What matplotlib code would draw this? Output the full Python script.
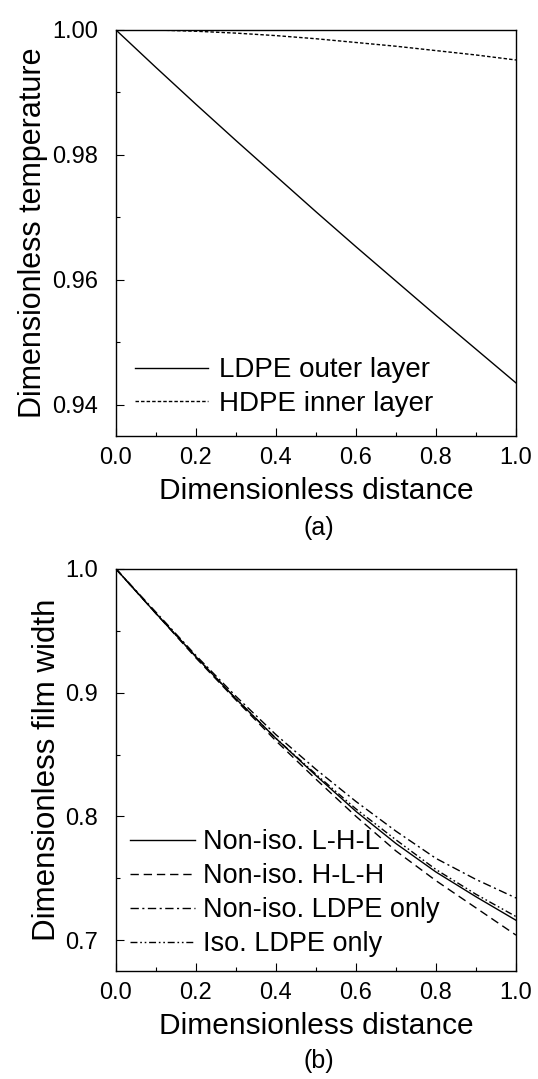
import matplotlib
matplotlib.use("Agg")
import matplotlib.pyplot as plt
from matplotlib.ticker import MultipleLocator, FormatStrFormatter

plt.rcParams['font.family'] = ['Liberation Sans', 'DejaVu Sans']

# panel (a): temperature along the distance
dist = [0.0, 0.1, 0.2, 0.3, 0.4, 0.5, 0.6, 0.7, 0.8, 0.9, 1.0]
ldpe_outer = [1.0, 0.9940, 0.9881, 0.9823, 0.9766, 0.9709, 0.9653, 0.9598, 0.9543, 0.9489, 0.9435]
hdpe_inner = [1.0, 1.0, 0.9998, 0.9995, 0.9991, 0.9986, 0.9980, 0.9974, 0.9967, 0.9960, 0.9952]

# panel (b): film width
lhl = [1.0, 0.964, 0.929, 0.895, 0.863, 0.833, 0.804, 0.778, 0.755, 0.735, 0.716]
hlh = [1.0, 0.964, 0.928, 0.894, 0.861, 0.830, 0.800, 0.772, 0.748, 0.726, 0.704]
noniso_ldpe = [1.0, 0.965, 0.930, 0.897, 0.866, 0.838, 0.812, 0.788, 0.766, 0.749, 0.734]
iso_ldpe = [1.0, 0.964, 0.929, 0.895, 0.863, 0.834, 0.806, 0.781, 0.757, 0.737, 0.719]

fig = plt.figure(figsize=(5.38, 10.79), dpi=100)
ax1 = fig.add_axes([0.2156, 0.5959, 0.7435, 0.3763])
ax2 = fig.add_axes([0.2156, 0.1001, 0.7435, 0.3726])

ax1.plot(dist, ldpe_outer, color='black', lw=1.0, ls='-', label='LDPE outer layer')
ax1.plot(dist, hdpe_inner, color='black', lw=1.0, ls=(0, (2.5, 1.5)), label='HDPE inner layer')
ax1.set_ylim(0.935, 1.0)
ax1.set_yticks([0.94, 0.96, 0.98, 1.00])
ax1.yaxis.set_minor_locator(MultipleLocator(0.01))
ax1.yaxis.set_major_formatter(FormatStrFormatter('%.2f'))
ax1.set_ylabel('Dimensionless temperature', fontsize=22, labelpad=3)

ax2.plot(dist, lhl, color='black', lw=1.0, ls='-', label='Non-iso. L-H-L')
ax2.plot(dist, hlh, color='black', lw=1.0, ls=(0, (6, 3.5)), label='Non-iso. H-L-H')
ax2.plot(dist, noniso_ldpe, color='black', lw=1.0, ls=(0, (6, 2.5, 1.5, 2.5)), label='Non-iso. LDPE only')
ax2.plot(dist, iso_ldpe, color='black', lw=1.0, ls=(0, (5, 2, 1.2, 2, 1.2, 2)), label='Iso. LDPE only')
ax2.set_ylim(0.675, 1.0)
ax2.set_yticks([0.7, 0.8, 0.9, 1.0])
ax2.yaxis.set_minor_locator(MultipleLocator(0.05))
ax2.yaxis.set_major_formatter(FormatStrFormatter('%.1f'))
ax2.set_ylabel('Dimensionless film width', fontsize=22.5, labelpad=2)

for ax in (ax1, ax2):
    ax.set_xlim(0.0, 1.0)
    ax.xaxis.set_major_locator(MultipleLocator(0.2))
    ax.xaxis.set_minor_locator(MultipleLocator(0.1))
    ax.xaxis.set_major_formatter(FormatStrFormatter('%.1f'))
    ax.tick_params(which='both', direction='in', top=False, right=False, labelsize=17)
    ax.tick_params(axis='x', pad=8)
    ax.tick_params(axis='y', pad=13)
    ax.tick_params(which='major', length=6, width=0.8)
    ax.tick_params(which='minor', length=3, width=0.8)
    ax.set_xlabel('Dimensionless distance', fontsize=21.5, labelpad=6)
    for s in ax.spines.values():
        s.set_linewidth(1.0)

ax1.legend(loc='lower left', frameon=False, fontsize=20, handlelength=2.6,
           handletextpad=0.4, labelspacing=0.26, borderaxespad=0.3)
ax2.legend(loc='lower left', frameon=False, fontsize=19.5, handlelength=2.4,
           handletextpad=0.3, labelspacing=0.3, borderaxespad=0.1)

fig.text(0.5935, 1 - 528 / 1079, '(a)', ha='center', va='center', fontsize=18)
fig.text(0.5935, 1 - 1061 / 1079, '(b)', ha='center', va='center', fontsize=18)

fig.savefig('out.png', dpi=100)
